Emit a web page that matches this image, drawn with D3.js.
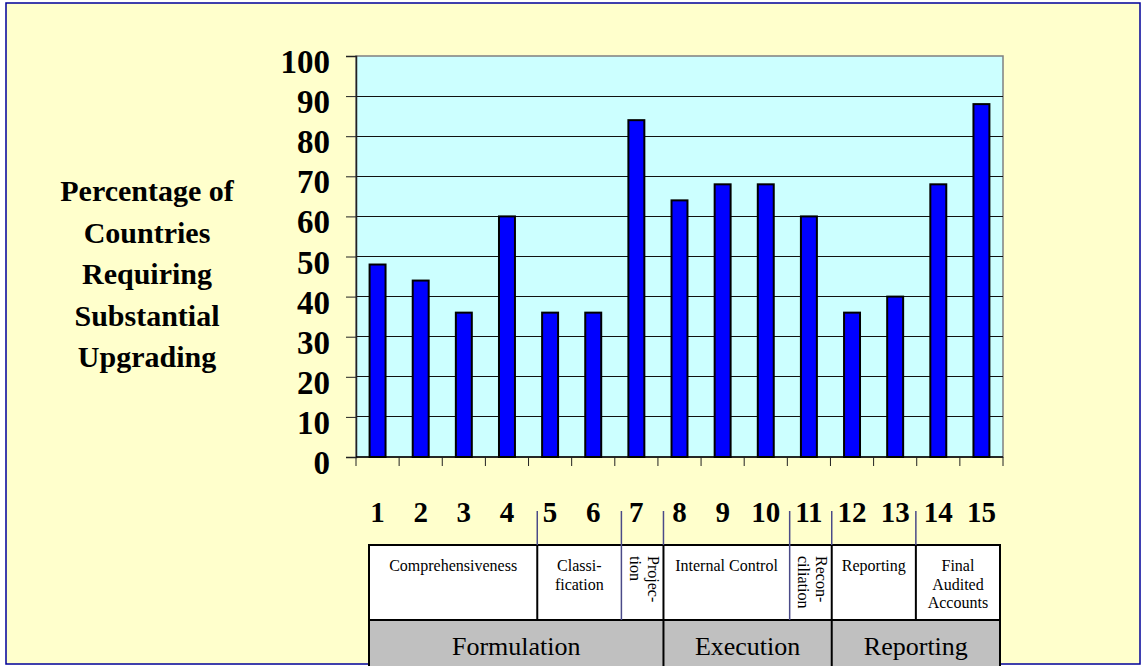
<!DOCTYPE html>
<html><head><meta charset="utf-8">
<script src="https://cdn.jsdelivr.net/npm/d3@7"></script>
<style>body{margin:0;background:#fff}svg{display:block}</style>
</head><body><svg id="c" width="1146" height="666"></svg>
<script>
const categories = ["1","2","3","4","5","6","7","8","9","10","11","12","13","14","15"];
const values = [48,44,36,60,36,36,84,64,68,68,60,36,40,68,88];
const yTicks = [0,10,20,30,40,50,60,70,80,90,100];
const yTitle = ["Percentage of","Countries","Requiring","Substantial","Upgrading"];
const subGroups = [
  {lines:["Comprehensiveness"], from:0, to:4, rot:false},
  {lines:["Classi-","fication"], from:4, to:6, rot:false},
  {lines:["Projec-","tion"], from:6, to:7, rot:true},
  {lines:["Internal Control"], from:7, to:10, rot:false},
  {lines:["Recon-","ciliation"], from:10, to:11, rot:true},
  {lines:["Reporting"], from:11, to:13, rot:false},
  {lines:["Final","Audited","Accounts"], from:13, to:15, rot:false}
];
const mainGroups = [
  {label:"Formulation", from:0, to:7},
  {label:"Execution", from:7, to:11},
  {label:"Reporting", from:11, to:15}
];
const blueDividers = [6,10];

const svg = d3.select("#c");
const serif = "'Liberation Serif','Times New Roman',serif";

// frame
svg.append("rect").attr("x",6).attr("y",3).attr("width",1134).attr("height",661)
  .attr("fill","#ffffcc").attr("stroke","#000099").attr("stroke-width",1.5);

const L=356, R=1003, T=56, B=457;
const x = d3.scaleBand().domain(categories).range([L,R]).padding(0);
const y = d3.scaleLinear().domain([0,100]).range([B,T]);

// plot bg
svg.append("rect").attr("x",L).attr("y",T).attr("width",R-L).attr("height",B-T)
  .attr("fill","#ccffff").attr("stroke","#808080").attr("stroke-width",1.5);

// gridlines
svg.append("g").selectAll("line").data(yTicks.filter(d=>d>0 && d<100)).join("line")
  .attr("x1",L).attr("x2",R).attr("y1",d=>y(d)).attr("y2",d=>y(d))
  .attr("stroke","#111").attr("stroke-width",1).attr("shape-rendering","crispEdges");

// bars
const bw = x.bandwidth()*0.37;
svg.append("g").selectAll("rect").data(values).join("rect")
  .attr("x",(d,i)=>x(categories[i])+x.bandwidth()/2-bw/2)
  .attr("y",d=>y(d)).attr("width",bw).attr("height",d=>B-y(d))
  .attr("fill","#0000ff").attr("stroke","#000").attr("stroke-width",2);

// y axis
const yAxis = svg.append("g").attr("transform",`translate(${L},0)`)
  .call(d3.axisLeft(y).tickValues(yTicks).tickSize(10).tickFormat(""));
yAxis.select(".domain").attr("stroke","#222").attr("stroke-width",1.5);
yAxis.selectAll(".tick line").attr("stroke","#222");
svg.append("g").selectAll("text").data(yTicks).join("text")
  .attr("x",330).attr("y",d=>y(d)+17).attr("text-anchor","end")
  .attr("font-family",serif).attr("font-weight","bold").attr("font-size",33)
  .text(d=>d);

// x axis ticks at band boundaries
const bounds = d3.range(categories.length+1);
svg.append("line").attr("x1",L).attr("x2",R).attr("y1",B).attr("y2",B).attr("stroke","#000").attr("stroke-width",1.5);
svg.append("g").selectAll("line").data(bounds).join("line")
  .attr("x1",i=>L+i*x.step()).attr("x2",i=>L+i*x.step()).attr("y1",B).attr("y2",B+9)
  .attr("stroke","#222").attr("stroke-width",1);
svg.append("g").selectAll("text").data(categories).join("text")
  .attr("x",d=>x(d)+x.bandwidth()/2).attr("y",522).attr("text-anchor","middle")
  .attr("font-family",serif).attr("font-weight","bold").attr("font-size",29)
  .text(d=>d);

// y title
svg.append("text").attr("font-family",serif).attr("font-weight","bold").attr("font-size",30)
  .attr("text-anchor","middle")
  .selectAll("tspan").data(yTitle).join("tspan")
  .attr("x",147).attr("y",(d,i)=>201+i*41.5).text(d=>d);

// table
const tx = d3.scaleLinear().domain([0,15]).range([369,1000]);
const tTop=545, tMid=620, tBot=668;
svg.append("rect").attr("x",tx(0)).attr("y",tTop).attr("width",tx(15)-tx(0)).attr("height",tMid-tTop)
  .attr("fill","#fff").attr("stroke","#000").attr("stroke-width",2);
svg.append("rect").attr("x",tx(0)).attr("y",tMid).attr("width",tx(15)-tx(0)).attr("height",tBot-tMid)
  .attr("fill","#c0c0c0").attr("stroke","#000").attr("stroke-width",2);

const divs = subGroups.slice(1).map(g=>g.from);
// separators above table
svg.append("g").selectAll("line").data(divs).join("line")
  .attr("x1",d=>tx(d)).attr("x2",d=>tx(d)).attr("y1",511)
  .attr("y2",d=>blueDividers.includes(d)?tMid:tTop)
  .attr("stroke","#4a4a88").attr("stroke-width",1.5);
// black dividers within top row
svg.append("g").selectAll("line").data(divs.filter(d=>!blueDividers.includes(d))).join("line")
  .attr("x1",d=>tx(d)).attr("x2",d=>tx(d)).attr("y1",tTop).attr("y2",tMid)
  .attr("stroke","#000").attr("stroke-width",2);
// dividers in bottom row
svg.append("g").selectAll("line").data(mainGroups.slice(1).map(g=>g.from)).join("line")
  .attr("x1",d=>tx(d)).attr("x2",d=>tx(d)).attr("y1",tMid).attr("y2",tBot)
  .attr("stroke","#000").attr("stroke-width",2);

// sub-group labels
subGroups.forEach(g=>{
  const cx=(tx(g.from)+tx(g.to))/2;
  if(!g.rot){
    const t=svg.append("text").attr("font-family",serif).attr("font-size",16).attr("text-anchor","middle");
    g.lines.forEach((s,i)=>t.append("tspan").attr("x",cx).attr("y",571+i*18.5).text(s));
  } else {
    g.lines.forEach((s,i)=>{
      svg.append("text").attr("font-family",serif).attr("font-size",16)
        .attr("transform",`translate(${cx+5.5-i*18},556) rotate(90)`).text(s);
    });
  }
});
svg.append("g").selectAll("text").data(mainGroups).join("text")
  .attr("x",g=>(tx(g.from)+tx(g.to))/2).attr("y",655).attr("text-anchor","middle")
  .attr("font-family",serif).attr("font-size",26).text(g=>g.label);
</script></body></html>
